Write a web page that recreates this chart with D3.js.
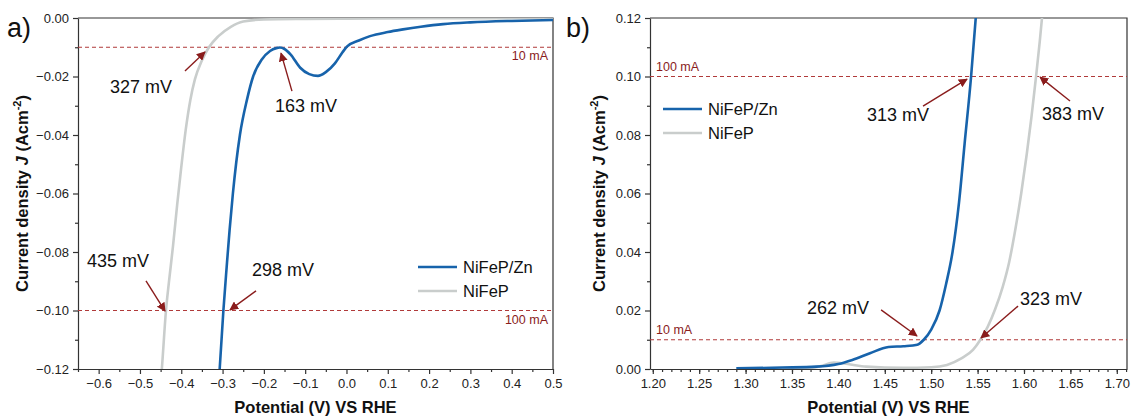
<!DOCTYPE html>
<html>
<head>
<meta charset="utf-8">
<script src="https://cdn.jsdelivr.net/npm/d3@7"></script>
<style>
  body { margin: 0; background: #fff; }
  svg { font-family: "Liberation Sans", Arial, sans-serif; }
  .tick text { font-size: 13px; fill: #222; }
  .domain, .tick line { stroke: #333; stroke-width: 1.2; }
</style>
</head>
<body>
<svg width="1132" height="420"></svg>
<script>
// series names
let seriesNames = ["NiFeP/Zn", "NiFeP"];

// panel a) HER
let herZnV = [-0.307, -0.298, -0.29, -0.283, -0.275, -0.258, -0.241, -0.226, -0.205, -0.185, -0.17, -0.161, -0.15, -0.135, -0.112, -0.09, -0.069, -0.05, -0.028, -0.01, 0.001, 0.03, 0.057, 0.1, 0.137, 0.18, 0.234, 0.3, 0.4, 0.5];
let herZnJ = [-0.12, -0.1, -0.085, -0.0725, -0.06, -0.04, -0.028, -0.02, -0.0142, -0.0113, -0.0103, -0.0101, -0.0106, -0.0125, -0.017, -0.0192, -0.0198, -0.0185, -0.0155, -0.0118, -0.0098, -0.0077, -0.0062, -0.0048, -0.0039, -0.003, -0.0021, -0.0015, -0.001, -0.0007];
let herV = [-0.451, -0.447, -0.437, -0.43, -0.42, -0.41, -0.4, -0.389, -0.378, -0.367, -0.35, -0.333, -0.31, -0.28, -0.25, -0.2, -0.1, 0, 0.2, 0.5];
let herJ = [-0.127, -0.12, -0.1, -0.0905, -0.078, -0.064, -0.051, -0.038, -0.028, -0.021, -0.0145, -0.01, -0.0062, -0.003, -0.0012, -0.0005, -0.0003, -0.0002, -0.0001, -0.0001];

// panel b) OER
let oerZnV = [1.29, 1.34, 1.376, 1.40, 1.415, 1.434, 1.454, 1.47, 1.485, 1.492, 1.50, 1.509, 1.516, 1.523, 1.53, 1.536, 1.543, 1.548];
let oerZnJ = [0.0002, 0.0005, 0.0008, 0.0017, 0.0031, 0.0054, 0.0075, 0.0078, 0.0083, 0.01, 0.0135, 0.02, 0.029, 0.04, 0.057, 0.077, 0.1, 0.12];
let oerV = [1.30, 1.37, 1.38, 1.395, 1.41, 1.43, 1.47, 1.50, 1.517, 1.533, 1.545, 1.553, 1.561, 1.569, 1.577, 1.584, 1.59, 1.597, 1.603, 1.608, 1.613, 1.617, 1.62];
let oerJ = [0.0002, 0.0004, 0.0009, 0.0022, 0.0017, 0.0008, 0.0004, 0.0006, 0.0014, 0.0037, 0.0065, 0.01, 0.0145, 0.0205, 0.028, 0.0365, 0.0465, 0.06, 0.0735, 0.086, 0.1, 0.112, 0.122];

// ticks
let herXTicks = [-0.6, -0.5, -0.4, -0.3, -0.2, -0.1, 0.0, 0.1, 0.2, 0.3, 0.4, 0.5];
let herYTicks = [0.00, -0.02, -0.04, -0.06, -0.08, -0.10, -0.12];
let oerXTicks = [1.20, 1.25, 1.30, 1.35, 1.40, 1.45, 1.50, 1.55, 1.60, 1.65, 1.70];
let oerYTicks = [0.00, 0.02, 0.04, 0.06, 0.08, 0.10, 0.12];

// reference lines (A/cm2) and labels
let herRefJ = [-0.01, -0.1];
let oerRefJ = [0.01, 0.1];
let refLabels = ["10 mA", "100 mA"];

// annotations: label, tip, tail, text (data units)
let herNotes = [
  ["327 mV", -0.3425, -0.0116, -0.391, -0.0181, -0.5725, -0.0256],
  ["163 mV", -0.1585, -0.0120, -0.132, -0.0250, -0.173, -0.0321],
  ["435 mV", -0.4393, -0.1002, -0.4854, -0.0899, -0.628, -0.0851],
  ["298 mV", -0.282, -0.0998, -0.219, -0.0933, -0.2287, -0.0882]
];
let oerNotes = [
  ["313 mV", 1.5386, 0.0991, 1.4912, 0.0899, 1.4308, 0.0848],
  ["383 mV", 1.6173, 0.0998, 1.6496, 0.0916, 1.6194, 0.0851],
  ["262 mV", 1.4847, 0.0113, 1.446, 0.0202, 1.3662, 0.0188],
  ["323 mV", 1.5537, 0.0106, 1.5936, 0.0215, 1.5957, 0.0219]
];

let blue = "#1763ab", grey = "#c9cdcc", red = "#b03a3a", dark = "#8a1c1c";

let svg = d3.select("svg");

let defs = svg.append("defs");
defs.append("marker")
    .attr("id", "arrow")
    .attr("viewBox", "0 0 10 10")
    .attr("refX", 9).attr("refY", 5)
    .attr("markerWidth", 9).attr("markerHeight", 9)
    .attr("markerUnits", "userSpaceOnUse")
    .attr("orient", "auto")
  .append("path")
    .attr("d", "M0,0 L10,5 L0,10 z")
    .attr("fill", dark);

function zip(a, b) { return a.map((v, i) => [v, b[i]]); }

function drawPanel(opt) {
  let x = d3.scaleLinear().domain(opt.xDomain).range([opt.left, opt.right]);
  let y = d3.scaleLinear().domain(opt.yDomain).range([opt.bottom, opt.top]);
  let g = svg.append("g");

  defs.append("clipPath").attr("id", opt.id)
    .append("rect")
    .attr("x", opt.left).attr("y", opt.top)
    .attr("width", opt.right - opt.left).attr("height", opt.bottom - opt.top);

  // minor ticks
  g.append("g")
    .attr("transform", "translate(0," + opt.bottom + ")")
    .call(d3.axisBottom(x).tickValues(opt.xMinor).tickSize(3).tickFormat(""))
    .select(".domain").remove();
  g.append("g")
    .attr("transform", "translate(" + opt.left + ",0)")
    .call(d3.axisLeft(y).tickValues(opt.yMinor).tickSize(3).tickFormat(""))
    .select(".domain").remove();

  // major axes
  g.append("g")
    .attr("transform", "translate(0," + opt.bottom + ")")
    .call(d3.axisBottom(x).tickValues(opt.xTicks).tickSize(5).tickSizeOuter(0).tickPadding(5).tickFormat(opt.xFmt));
  g.append("g")
    .attr("transform", "translate(" + opt.left + ",0)")
    .call(d3.axisLeft(y).tickValues(opt.yTicks).tickSize(5).tickSizeOuter(0).tickPadding(4).tickFormat(d3.format(".2f")));

  // box top and right
  g.append("path")
    .attr("d", "M" + opt.left + "," + opt.top + "H" + opt.right + "V" + opt.bottom)
    .attr("fill", "none").attr("stroke", "#333").attr("stroke-width", 1.2);

  // reference lines
  opt.refJ.forEach((j, i) => {
    g.append("line")
      .attr("x1", opt.left).attr("x2", opt.right)
      .attr("y1", y(j)).attr("y2", y(j))
      .attr("stroke", red).attr("stroke-width", 1)
      .attr("stroke-dasharray", "4,3");
    let t = g.append("text")
      .attr("font-size", 12.5).attr("fill", dark)
      .text(refLabels[i]);
    if (opt.refSide == "right") {
      t.attr("x", opt.right - 5).attr("y", y(j) + 13).attr("text-anchor", "end");
    } else {
      t.attr("x", opt.left + 6).attr("y", y(j) - 6);
    }
  });

  // curves
  let line = d3.line()
    .x(d => x(d[0])).y(d => y(d[1]))
    .curve(d3.curveMonotoneX);
  let lines = g.append("g").attr("clip-path", "url(#" + opt.id + ")");
  lines.append("path")
    .datum(zip(opt.greyV, opt.greyJ))
    .attr("d", line)
    .attr("fill", "none").attr("stroke", grey).attr("stroke-width", 2.6);
  lines.append("path")
    .datum(zip(opt.blueV, opt.blueJ))
    .attr("d", line)
    .attr("fill", "none").attr("stroke", blue).attr("stroke-width", 2.6);

  // annotations
  opt.notes.forEach(n => {
    g.append("line")
      .attr("x1", x(n[3])).attr("y1", y(n[4]))
      .attr("x2", x(n[1])).attr("y2", y(n[2]))
      .attr("stroke", dark).attr("stroke-width", 1.4)
      .attr("marker-end", "url(#arrow)");
    g.append("text")
      .attr("x", x(n[5])).attr("y", y(n[6]))
      .attr("font-size", 18).attr("fill", "#111")
      .text(n[0]);
  });

  // legend
  [blue, grey].forEach((c, i) => {
    let ly = opt.legY + i * 24;
    g.append("line")
      .attr("x1", opt.legX).attr("x2", opt.legX + 39)
      .attr("y1", ly).attr("y2", ly)
      .attr("stroke", c).attr("stroke-width", 2.6);
    g.append("text")
      .attr("x", opt.legX + 45).attr("y", ly + 6)
      .attr("font-size", 16.5).attr("fill", "#111")
      .text(seriesNames[i]);
  });

  // axis titles
  g.append("text")
    .attr("x", (opt.left + opt.right) / 2).attr("y", 413)
    .attr("text-anchor", "middle")
    .attr("font-size", 16.5).attr("font-weight", "bold").attr("fill", "#111")
    .text("Potential (V) VS RHE");

  let yt = g.append("text")
    .attr("transform", "translate(" + opt.yTitleX + "," + ((opt.top + opt.bottom) / 2) + ") rotate(-90)")
    .attr("text-anchor", "middle")
    .attr("font-size", 16.5).attr("font-weight", "bold").attr("fill", "#111");
  yt.append("tspan").text("Current density ");
  yt.append("tspan").attr("font-style", "italic").text("J");
  yt.append("tspan").text(" (Acm");
  yt.append("tspan").attr("font-size", 11).attr("dy", -7).text("-2");
  yt.append("tspan").attr("dy", 7).text(")");

  // panel letter
  g.append("text")
    .attr("x", opt.letterX).attr("y", 37)
    .attr("font-size", 27).attr("fill", "#111")
    .text(opt.letter);
}

drawPanel({
  id: "clipA", letter: "a)", letterX: 7,
  left: 78, right: 553, top: 18, bottom: 369,
  xDomain: [-0.65, 0.5], yDomain: [-0.12, 0],
  xTicks: herXTicks, yTicks: herYTicks,
  xMinor: d3.range(-0.65, 0.5, 0.1).map(d => +d.toFixed(2)),
  yMinor: d3.range(-0.11, 0, 0.02).map(d => +d.toFixed(2)),
  xFmt: d3.format(".1f"),
  refJ: herRefJ, refSide: "right",
  blueV: herZnV, blueJ: herZnJ, greyV: herV, greyJ: herJ,
  notes: herNotes, legX: 418, legY: 267, yTitleX: 28
});

drawPanel({
  id: "clipB", letter: "b)", letterX: 566,
  left: 650, right: 1127, top: 18, bottom: 369,
  xDomain: [1.197, 1.711], yDomain: [0, 0.12],
  xTicks: oerXTicks, yTicks: oerYTicks,
  xMinor: d3.range(1.20, 1.711, 0.01).map(d => +d.toFixed(2)),
  yMinor: d3.range(0.01, 0.12, 0.02).map(d => +d.toFixed(2)),
  xFmt: d3.format(".2f"),
  refJ: oerRefJ, refSide: "left",
  blueV: oerZnV, blueJ: oerZnJ, greyV: oerV, greyJ: oerJ,
  notes: oerNotes, legX: 663, legY: 109, yTitleX: 605
});
</script>
</body>
</html>
